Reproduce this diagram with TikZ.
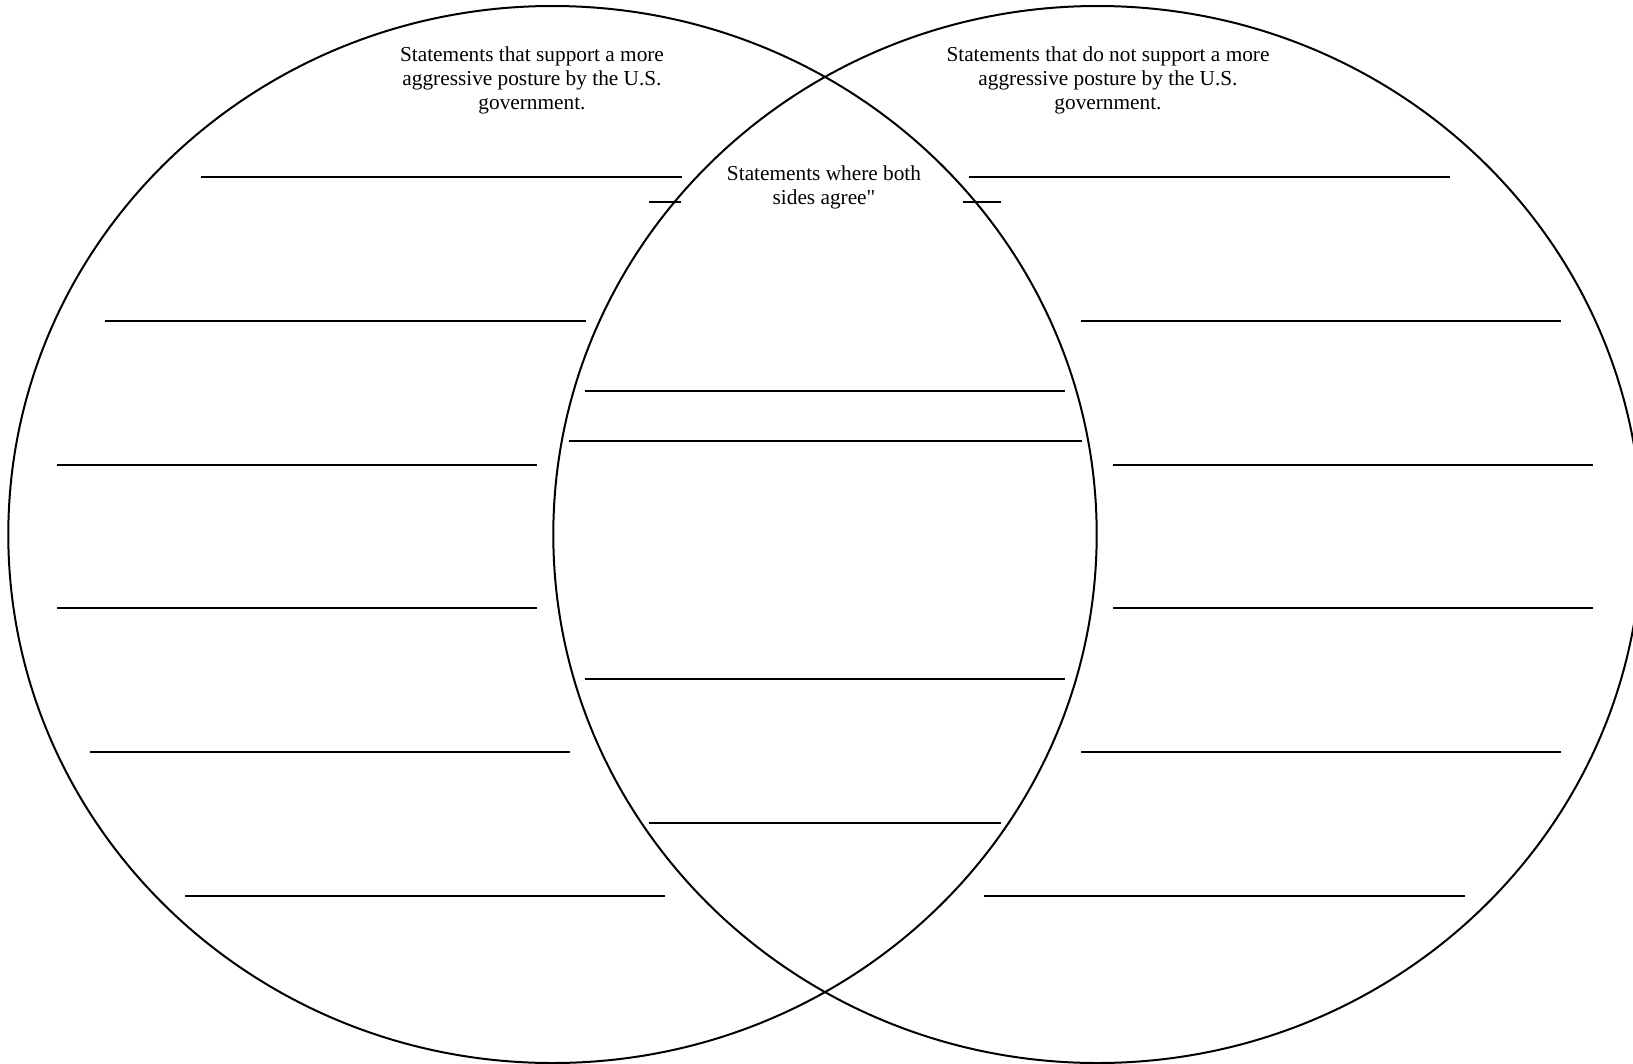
\documentclass[tikz,border=0pt]{standalone}
\usepackage{fontspec}
\setmainfont{Liberation Serif}[Ligatures=TeXOff]
\begin{document}
\begin{tikzpicture}[x=1pt,y=-1pt,
  ring/.style={draw=black,line width=2pt},
  blank/.style={draw=black,line width=2pt},
  label/.style={align=center,inner sep=0pt,font=\fontsize{21.3}{24}\selectfont}]
\useasboundingbox (0,0) rectangle (1633,1063);
\clip (0,0) rectangle (1633,1063);
\fill[white] (0,0) rectangle (1633,1063);
% circles
\draw[ring] (552.5,534.5) ellipse [x radius=544.2pt, y radius=528.5pt];
\draw[ring] (1097.5,534.5) ellipse [x radius=544.2pt, y radius=528.5pt];
% titles
\node[label] (lefttitle) at (532,80) {Statements that support a more\\aggressive posture by the U.S.\\government.};
\node[label] (righttitle) at (1108,80) {Statements that do not support a more\\aggressive posture by the U.S.\\government.};
\node[label] (midtitle) at (824,187) {Statements where both\\sides agree"};
% left lines
\draw[blank] (201,177) -- (682,177);
\draw[blank] (649,202) -- (681,202);
\draw[blank] (105,321) -- (586,321);
\draw[blank] (57,464.5) -- (537,464.5);
\draw[blank] (57,608) -- (537,608);
\draw[blank] (90,752) -- (570,752);
\draw[blank] (185,896) -- (665,896);
% middle lines
\draw[blank] (585,391) -- (1065,391);
\draw[blank] (569,441) -- (1082,441);
\draw[blank] (585,679) -- (1065,679);
\draw[blank] (649,823) -- (1001,823);
% right lines
\draw[blank] (969,177) -- (1450,177);
\draw[blank] (963,202) -- (1001,202);
\draw[blank] (1081,321) -- (1561,321);
\draw[blank] (1113,464.5) -- (1593,464.5);
\draw[blank] (1113,608) -- (1593,608);
\draw[blank] (1081,752) -- (1561,752);
\draw[blank] (984,896) -- (1465,896);
\end{tikzpicture}
\end{document}
